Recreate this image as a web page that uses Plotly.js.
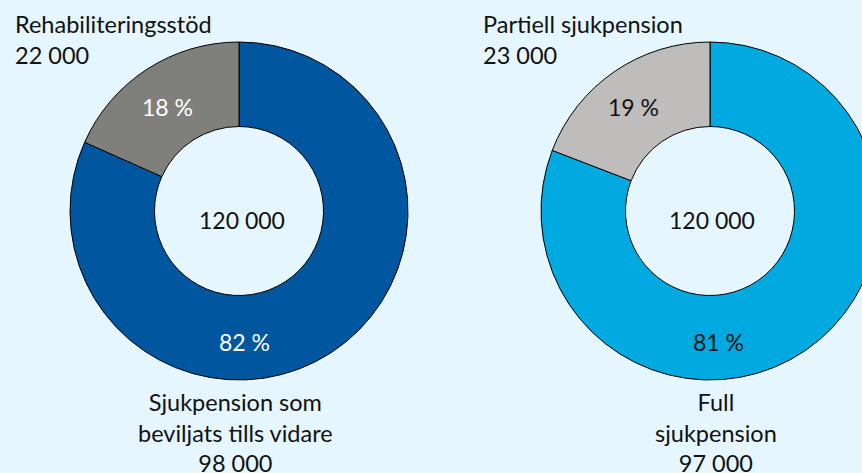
<!DOCTYPE html>
<html>
<head>
<meta charset="utf-8">
<script src="https://cdn.plot.ly/plotly-3.0.1.min.js"></script>
<style>
html,body{margin:0;padding:0;overflow:hidden;background:#E6F6FE;width:862px;height:473px;}
#chart{width:900px;height:473px;}
</style>
</head>
<body>
<div id="chart"></div>
<script>
// Data
const leftLabels = ["Sjukpension som beviljats tills vidare", "Rehabiliteringsstöd"];
const leftValues = [98000, 22000];
const leftTotal = "120 000";
const leftTopLabel = ["Rehabiliteringsstöd", "22 000"];
const leftBottomLabel = ["Sjukpension som", "beviljats tills vidare", "98 000"];
const leftPercents = ["82 %", "18 %"];

const rightLabels = ["Full sjukpension", "Partiell sjukpension"];
const rightValues = [97000, 23000];
const rightTotal = "120 000";
const rightTopLabel = ["Partiell sjukpension", "23 000"];
const rightBottomLabel = ["Full", "sjukpension", "97 000"];
const rightPercents = ["81 %", "19 %"];

const W = 900, H = 473;
const FONT = "Lato, 'Open Sans', sans-serif";
const px = x => x / W;
const py = y => 1 - y / H;

function pieTrace(labels, values, colors, cx, cy, r) {
  return {
    type: "pie",
    labels: labels,
    values: values,
    sort: false,
    direction: "clockwise",
    rotation: 0,
    hole: 0.5,
    textinfo: "none",
    hoverinfo: "label+value+percent",
    marker: {colors: colors, line: {color: "#000000", width: 1}},
    domain: {x: [px(cx - r), px(cx + r)], y: [py(cy + r), py(cy - r)]},
    showlegend: false
  };
}

const traces = [
  pieTrace(leftLabels, leftValues, ["#00579F", "#7F7F7C"], 239, 211, 169),
  pieTrace(rightLabels, rightValues, ["#00A9E0", "#BFBDBB"], 710, 211, 169)
];

function ann(text, x, y, xanchor, color, size) {
  return {
    text: text, xref: "paper", yref: "paper",
    x: px(x), y: py(y), xanchor: xanchor, yanchor: "middle",
    showarrow: false, align: xanchor === "left" ? "left" : "center",
    font: {family: FONT, size: size || 23, color: color || "#111111"}
  };
}

const annotations = [
  ann(leftTopLabel.join("<br>"), 13, 39, "left", "#111111", 23.5),
  ann(rightTopLabel.join("<br>"), 481, 39, "left", "#111111", 23.5),
  ann(leftBottomLabel.join("<br>"), 235, 432, "center", "#111111", 23.5),
  ann(rightBottomLabel.join("<br>"), 716, 432, "center", "#111111", 23.5),
  ann(leftTotal, 242, 220, "center"),
  ann(rightTotal, 712, 220, "center"),
  ann(leftPercents[1], 167, 107, "center", "#FFFFFF"),
  ann(leftPercents[0], 244, 342, "center", "#FFFFFF"),
  ann(rightPercents[1], 633, 107, "center", "#111111"),
  ann(rightPercents[0], 718, 342, "center", "#111111")
];

const layout = {
  width: W, height: H,
  margin: {l: 0, r: 0, t: 0, b: 0},
  paper_bgcolor: "#E6F6FE",
  plot_bgcolor: "#E6F6FE",
  annotations: annotations,
  font: {family: FONT}
};

Plotly.newPlot("chart", traces, layout, {displayModeBar: false, staticPlot: true});
</script>
</body>
</html>
